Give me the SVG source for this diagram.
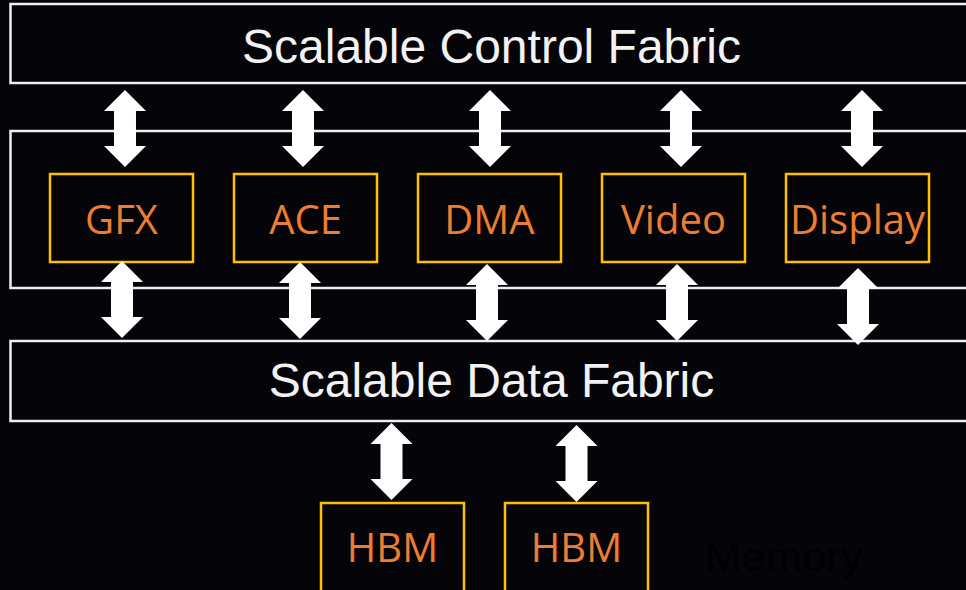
<svg xmlns="http://www.w3.org/2000/svg" xmlns:xlink="http://www.w3.org/1999/xlink" width="966" height="590" viewBox="0 0 966 590">
  <style>
    .fabric { fill: none; stroke: #eeeeee; stroke-width: 2.5; }
    .blk { fill: none; stroke: #ffc000; stroke-width: 2.5; }
    .ftxt { font-family: "Liberation Sans", Arial, sans-serif; font-size: 48px; fill: #f2f2f2; text-anchor: middle; }
    .btxt { font-family: "Open Sans", "Noto Sans", sans-serif; font-size: 40px; fill: #ed7d31; text-anchor: middle; }
    .arr { fill: #ffffff; }
  </style>
  <defs>
    <path id="dblarrow" d="M0,0 L21,21 L11,21 L11,56 L21,56 L0,77 L-21,56 L-11,56 L-11,21 L-21,21 Z"/>
  </defs>
  <rect x="0" y="0" width="966" height="590" fill="#050409"/>

  <g id="control-fabric">
    <rect class="fabric" x="10.5" y="4" width="970" height="79"/>
    <text class="ftxt" x="491.5" y="63">Scalable Control Fabric</text>
  </g>
  <g id="engine-group">
    <rect class="fabric" x="10.5" y="131" width="970" height="157"/>
  </g>
  <g id="data-fabric">
    <rect class="fabric" x="10.5" y="341" width="970" height="80"/>
    <text class="ftxt" x="491.5" y="397">Scalable Data Fabric</text>
  </g>

  <g id="gfx">
    <rect class="blk" x="50" y="174" width="143" height="88"/>
    <text class="btxt" x="121.5" y="233.5">GFX</text>
  </g>
  <g id="ace">
    <rect class="blk" x="234" y="174" width="143" height="88"/>
    <text class="btxt" x="305.5" y="233.5">ACE</text>
  </g>
  <g id="dma">
    <rect class="blk" x="418" y="174" width="143" height="88"/>
    <text class="btxt" x="489.5" y="233.5">DMA</text>
  </g>
  <g id="video">
    <rect class="blk" x="602" y="174" width="143" height="88"/>
    <text class="btxt" x="673.5" y="233.5">Video</text>
  </g>
  <g id="display">
    <rect class="blk" x="786" y="174" width="143" height="88"/>
    <text class="btxt" x="857.5" y="233.5">Display</text>
  </g>
  <g id="hbm1">
    <rect class="blk" x="321" y="503" width="143" height="92"/>
    <text class="btxt" x="392.5" y="562">HBM</text>
  </g>
  <g id="hbm2">
    <rect class="blk" x="505" y="503" width="143" height="92"/>
    <text class="btxt" x="576.5" y="562">HBM</text>
  </g>
  <g id="memory-label">
    <text x="705" y="571" font-family="Liberation Sans, Arial, sans-serif" font-size="40" fill="#000000" textLength="158" lengthAdjust="spacingAndGlyphs">Memory</text>
  </g>

  <g id="connectors" class="arr">
    <use xlink:href="#dblarrow" transform="translate(125,90)"/>
    <use xlink:href="#dblarrow" transform="translate(303,90)"/>
    <use xlink:href="#dblarrow" transform="translate(490,90)"/>
    <use xlink:href="#dblarrow" transform="translate(681,90)"/>
    <use xlink:href="#dblarrow" transform="translate(862,90)"/>
    <use xlink:href="#dblarrow" transform="translate(122,261)"/>
    <use xlink:href="#dblarrow" transform="translate(300,262)"/>
    <use xlink:href="#dblarrow" transform="translate(487,264)"/>
    <use xlink:href="#dblarrow" transform="translate(677,264)"/>
    <use xlink:href="#dblarrow" transform="translate(858,268)"/>
    <use xlink:href="#dblarrow" transform="translate(391.5,423)"/>
    <use xlink:href="#dblarrow" transform="translate(576.5,425)"/>
  </g>
</svg>
